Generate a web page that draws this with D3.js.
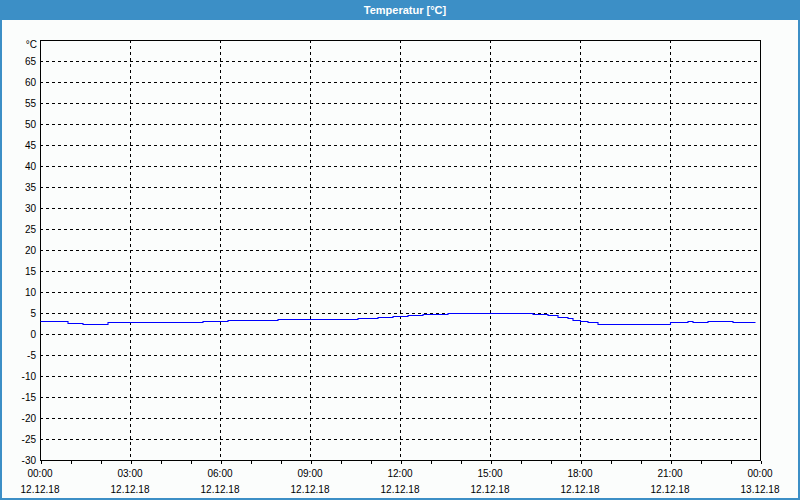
<!DOCTYPE html>
<html>
<head>
<meta charset="utf-8">
<script src="https://cdn.jsdelivr.net/npm/d3@7/dist/d3.min.js"></script>
<style>
  html, body { margin: 0; padding: 0; background: #fbfdfc; }
  svg { display: block; }
  text { font-family: "Liberation Sans", Arial, sans-serif; }
</style>
</head>
<body>
<svg id="chart" width="800" height="500"></svg>
<script>
// ---- data ----
const title = "Temperatur [°C]";
const unitLabel = "°C";
// change points of the recorded temperature (time of day, °C)
const times = ["00:00","00:55","01:25","01:45","02:15","05:25","06:15","07:55","10:35","11:15",
               "11:45","12:15","12:45","13:35","16:25","16:55","17:15","17:35","17:45","18:00",
               "18:15","18:35","19:05","20:15","21:00","21:35","21:45","22:15","23:05","23:50"];
const values = [3.0, 2.6, 2.3, 2.5, 2.8, 3.0, 3.3, 3.5, 3.7, 4.0,
                4.2, 4.5, 4.7, 4.9, 4.7, 4.5, 4.0, 3.7, 3.4, 3.0,
                2.8, 2.5, 2.3, 2.5, 2.8, 3.0, 2.8, 3.0, 2.8, 2.8];
const yTicks = [-30,-25,-20,-15,-10,-5,0,5,10,15,20,25,30,35,40,45,50,55,60,65];
const xTickTimes = ["00:00","03:00","06:00","09:00","12:00","15:00","18:00","21:00","00:00"];
const xTickDates = ["12.12.18","12.12.18","12.12.18","12.12.18","12.12.18","12.12.18","12.12.18","12.12.18","13.12.18"];
const yMin = -30, yMax = 70;

// ---- layout ----
const W = 800, H = 500;
const pL = 40, pR = 760, pT = 40, pB = 460;
const svg = d3.select("#chart");

const toHours = s => { const [h, m] = s.split(":").map(Number); return h + m / 60; };
const x = d3.scaleLinear().domain([0, 24]).range([pL, pR]);
const y = d3.scaleLinear().domain([yMin, yMax]).range([pB, pT]);

// background
svg.append("rect").attr("x", 0).attr("y", 0).attr("width", W).attr("height", H).attr("fill", "#fbfdfc");
// title bar
svg.append("rect").attr("x", 0).attr("y", 0).attr("width", W).attr("height", 20).attr("fill", "#3c8fc6");
svg.append("text").attr("x", 405).attr("y", 10).attr("dy", "0.35em")
  .attr("text-anchor", "middle").attr("fill", "#ffffff")
  .attr("font-size", "11px").attr("font-weight", "bold").text(title);
// window border
svg.append("line").attr("x1", 0.5).attr("x2", 0.5).attr("y1", 20).attr("y2", H).attr("stroke", "#3c8fc6");
svg.append("line").attr("x1", 1.5).attr("x2", 1.5).attr("y1", 20).attr("y2", H).attr("stroke", "#3c8fc6");
svg.append("line").attr("x1", W - 0.5).attr("x2", W - 0.5).attr("y1", 20).attr("y2", H).attr("stroke", "#3c8fc6");
svg.append("line").attr("x1", W - 1.5).attr("x2", W - 1.5).attr("y1", 20).attr("y2", H).attr("stroke", "#3c8fc6");
svg.append("line").attr("x1", 0).attr("x2", W).attr("y1", H - 0.5).attr("y2", H - 0.5).attr("stroke", "#3c8fc6");
svg.append("line").attr("x1", 0).attr("x2", W).attr("y1", H - 1.5).attr("y2", H - 1.5).attr("stroke", "#3c8fc6");

// grid
const grid = svg.append("g").attr("shape-rendering", "crispEdges");
grid.selectAll("line.h").data(yTicks.filter(v => v > yMin)).enter().append("line")
  .attr("x1", pL).attr("x2", pR)
  .attr("y1", d => Math.round(y(d)) + 0.5).attr("y2", d => Math.round(y(d)) + 0.5)
  .attr("stroke", "#000").attr("stroke-dasharray", "3,3");
grid.selectAll("line.v").data(d3.range(3, 24, 3)).enter().append("line")
  .attr("y1", pT).attr("y2", pB)
  .attr("x1", d => Math.round(x(d)) + 0.5).attr("x2", d => Math.round(x(d)) + 0.5)
  .attr("stroke", "#000").attr("stroke-dasharray", "3,3");

// frame
svg.append("rect").attr("x", pL + 0.5).attr("y", pT + 0.5)
  .attr("width", pR - pL).attr("height", pB - pT)
  .attr("fill", "none").attr("stroke", "#000").attr("shape-rendering", "crispEdges");

// x axis (hourly ticks)
const xAxis = d3.axisBottom(x).tickValues(d3.range(0, 25, 1)).tickSize(3).tickFormat("");
const gx = svg.append("g").attr("transform", `translate(0.5,${pB + 0.5})`).call(xAxis);
gx.select(".domain").remove();
gx.selectAll("line").attr("stroke", "#000").attr("shape-rendering", "crispEdges");

const xl = svg.append("g").attr("font-size", "10px").attr("fill", "#000").attr("text-anchor", "middle");
xl.selectAll("text.t").data(xTickTimes).enter().append("text")
  .attr("x", (d, i) => x(i * 3)).attr("y", 473).attr("dy", "0.35em").text(d => d);
xl.selectAll("text.d").data(xTickDates).enter().append("text")
  .attr("x", (d, i) => x(i * 3)).attr("y", 489).attr("dy", "0.35em").text(d => d);

// y axis labels
const yl = svg.append("g").attr("font-size", "10px").attr("fill", "#000").attr("text-anchor", "end");
yl.selectAll("text").data(yTicks).enter().append("text")
  .attr("x", 36).attr("y", d => y(d)).attr("dy", "0.35em").text(d => d);
yl.append("text").attr("x", 37).attr("y", y(yMax) + 4).attr("dy", "0.35em").text(unitLabel);

// data line
const pts = times.map((t, i) => [toHours(t), values[i]]);
const line = d3.line().x(d => x(d[0]) + 0.5).y(d => Math.round(y(d[1])) + 0.5).curve(d3.curveStepAfter);
svg.append("path").datum(pts).attr("d", line)
  .attr("fill", "none").attr("stroke", "#0000ff").attr("stroke-width", 1.1);
</script>
</body>
</html>
